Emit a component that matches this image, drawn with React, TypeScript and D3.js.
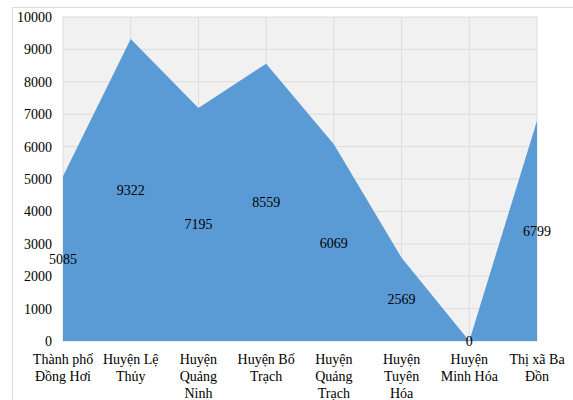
import React from "react";
import * as d3 from "d3";

const categories = [
  "Thành phố\nĐồng Hơi",
  "Huyện Lệ\nThủy",
  "Huyện\nQuảng\nNinh",
  "Huyện Bố\nTrạch",
  "Huyện\nQuảng\nTrạch",
  "Huyện\nTuyên\nHóa",
  "Huyện\nMinh Hóa",
  "Thị xã Ba\nĐồn",
];
const values = [5085, 9322, 7195, 8559, 6069, 2569, 0, 6799];
const yTicks = [0, 1000, 2000, 3000, 4000, 5000, 6000, 7000, 8000, 9000, 10000];

const W = 573;
const H = 400;
const left = 63;
const right = 537;
const top = 17;
const bottom = 341;
const FONT = "'Liberation Serif', 'Times New Roman', serif";

export default function App() {
  const x = d3
    .scalePoint<number>()
    .domain(categories.map((_, i) => i))
    .range([left, right]);
  const y = d3.scaleLinear().domain([0, 10000]).range([bottom, top]);
  const area = d3
    .area<number>()
    .x((_, i) => x(i) as number)
    .y0(bottom)
    .y1((d) => y(d));

  return (
    <svg
      width={W}
      height={H}
      style={{ position: "absolute", left: 0, top: 0 }}
      fontFamily={FONT}
    >
      <rect width={W} height={H} fill="#fff" />
      <line x1={12.5} x2={W} y1={7.5} y2={7.5} stroke="#d9d9d9" />
      <line x1={12.5} x2={12.5} y1={7.5} y2={H} stroke="#d9d9d9" />
      <rect x={left} y={top} width={right - left} height={bottom - top} fill="#f1f1f1" />
      {yTicks.map((t) => (
        <line
          key={"h" + t}
          x1={left}
          x2={right}
          y1={y(t)}
          y2={y(t)}
          stroke="#dcdcdc"
          strokeWidth={1}
        />
      ))}
      {categories.map((_, i) => (
        <line
          key={"v" + i}
          x1={x(i)}
          x2={x(i)}
          y1={top}
          y2={bottom}
          stroke="#dcdcdc"
          strokeWidth={1}
        />
      ))}
      <path d={area(values) || ""} fill="#5b9bd5" />
      {yTicks.map((t) => (
        <text
          key={"t" + t}
          x={52}
          y={y(t)}
          dy="0.35em"
          textAnchor="end"
          fontSize={14}
          fill="#000"
        >
          {t}
        </text>
      ))}
      {values.map((v, i) => (
        <text
          key={"l" + i}
          x={x(i)}
          y={y(v / 2)}
          dy="0.35em"
          textAnchor="middle"
          fontSize={14}
          fill="#000"
        >
          {v}
        </text>
      ))}
      {categories.map((c, i) => (
        <text
          key={"c" + i}
          x={x(i)}
          y={359}
          dy="0.35em"
          textAnchor="middle"
          fontSize={14}
          fill="#000"
        >
          {c.split("\n").map((ln, j) => (
            <tspan key={j} x={x(i)} dy={j === 0 ? "0.35em" : 17}>
              {ln}
            </tspan>
          ))}
        </text>
      ))}
    </svg>
  );
}
